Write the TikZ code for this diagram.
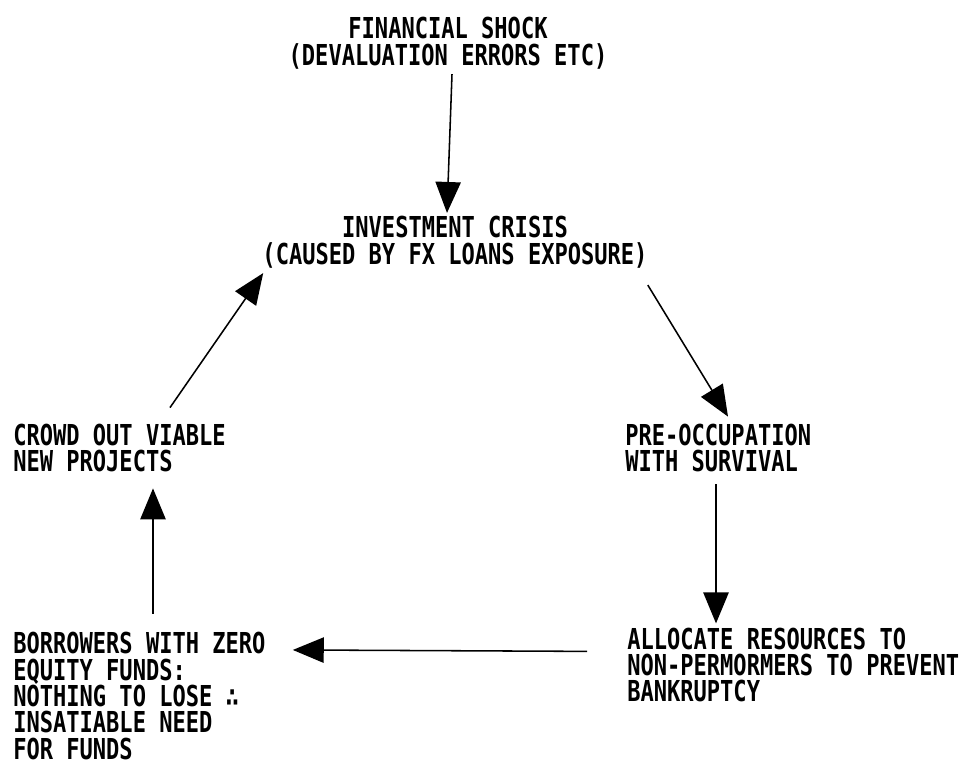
\documentclass[tikz,border=0pt]{standalone}
\usepackage{fontspec}
\newfontfamily\plotfont{DejaVu Sans Mono}[FakeStretch=0.765]
\usetikzlibrary{arrows.meta,calc}

\begin{document}
\begin{tikzpicture}[x=0.025cm,y=-0.025cm,
    txt/.style={inner sep=0pt,font=\plotfont\bfseries\fontsize{20.5}{18.8}\selectfont},
    flow/.style={-{Triangle[length=22pt,width=18pt]},line width=1.1pt}]

  \useasboundingbox (0,0) rectangle (971,768);

  \node (shock)     at (448,43)  [txt,align=center] {FINANCIAL SHOCK\\(DEVALUATION ERRORS ETC)};
  \node (crisis)    at (455,242) [txt,align=center] {INVESTMENT CRISIS\\(CAUSED BY FX LOANS EXPOSURE)};
  \node (preocc)    at (625,448) [txt,align=left,anchor=west] {PRE-OCCUPATION\\WITH SURVIVAL};
  \node (allocate)  at (627,665) [txt,align=left,anchor=west] {ALLOCATE RESOURCES TO\\NON-PERMORMERS TO PREVENT\\BANKRUPTCY};
  \node (borrowers) at (13,696)  [txt,align=left,anchor=west] {BORROWERS WITH ZERO\\EQUITY FUNDS:\\NOTHING TO LOSE ∴\\INSATIABLE NEED\\FOR FUNDS};
  \node (crowd)     at (13,448)  [txt,align=left,anchor=west] {CROWD OUT VIABLE\\NEW PROJECTS};

  % the cycle
  \draw [flow] ($(shock.south)+(4,5)$) -- ($(crisis.north)+(-8,-3)$);
  \draw [flow] ($(crisis.south east)+(0,17)$) -- ($(preocc.north west)+(103,-7)$);
  \draw [flow] ($(preocc.south west)+(91,12)$) -- ($(allocate.north west)+(89,-4)$);
  \draw [flow] ($(allocate.north west)+(-40,24)$) -- ($(borrowers.north east)+(27,18)$);
  \draw [flow] ($(borrowers.north west)+(140,-18)$) -- ($(crowd.south west)+(140,16)$);
  \draw [flow] ($(crowd.north west)+(157,-16)$) -- ($(crisis.south west)+(1,5)$);
\end{tikzpicture}
\end{document}
